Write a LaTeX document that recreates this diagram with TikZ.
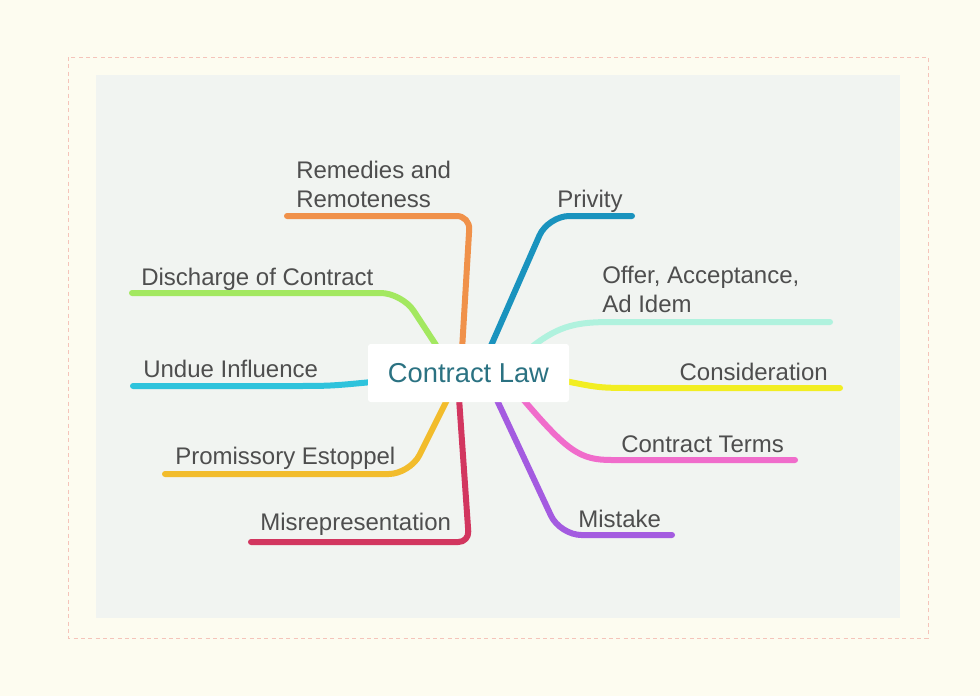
\documentclass[tikz,border=0pt]{standalone}
\usepackage{fontspec}
\setmainfont{Liberation Sans}
\definecolor{cream}{HTML}{FDFCF0}
\definecolor{panel}{HTML}{F1F4F1}
\definecolor{dashc}{HTML}{F5C4BA}
\definecolor{txt}{HTML}{4E4E4E}
\definecolor{ctxt}{HTML}{2B7282}
\definecolor{cOrange}{HTML}{F0914A}
\definecolor{cGreen}{HTML}{A3E860}
\definecolor{cCyan}{HTML}{2EC3DC}
\definecolor{cGold}{HTML}{F2BC2C}
\definecolor{cCrimson}{HTML}{D2365F}
\definecolor{cBlue}{HTML}{1A93BE}
\definecolor{cMint}{HTML}{B0F2DE}
\definecolor{cYellow}{HTML}{F2EE22}
\definecolor{cPink}{HTML}{F06CCB}
\definecolor{cPurple}{HTML}{A45BE0}
\tikzset{
  branch/.style={line width=4.5pt, line cap=round, line join=round},
  lbl/.style={anchor=base west, inner sep=0pt, text=txt, font=\fontsize{18}{21.5}\selectfont, align=left},
  centerbox/.style={fill=white, rounded corners=2pt, minimum width=150.75pt, minimum height=43.5pt, inner sep=0pt, text=ctxt, font=\fontsize{20.5}{24}\selectfont}
}
\begin{document}
\begin{tikzpicture}[x=0.75pt,y=-0.75pt]
\useasboundingbox (0,0) rectangle (980,696);
\fill[cream] (0,0) rectangle (980,696);
\draw[dashc, line width=0.6pt, dash pattern=on 3pt off 2.5pt] (68,57) rectangle (928,638);
\fill[panel] (96,75) rectangle (900,618);

% coordinates
\coordinate (remS) at (462,350);
\coordinate (remK) at (470,216);
\coordinate (remE) at (287,216);
\coordinate (disS) at (436,345);
\coordinate (disK) at (402,293);
\coordinate (disE) at (132,293);
\coordinate (undS) at (372,382);
\coordinate (undE) at (133,386);
\coordinate (proS) at (448,398);
\coordinate (proK) at (410,474);
\coordinate (proE) at (165,474);
\coordinate (misS) at (459,398);
\coordinate (misK) at (469,542);
\coordinate (misE) at (251,542);
\coordinate (priS) at (490,348);
\coordinate (priK) at (548,216);
\coordinate (priE) at (632,216);
\coordinate (offS) at (533,346);
\coordinate (offE) at (830,322);
\coordinate (conS) at (565,381);
\coordinate (conE) at (840,388);
\coordinate (terS) at (522,398);
\coordinate (terE) at (795,460);
\coordinate (mstS) at (496,398);
\coordinate (mstK) at (560,535);
\coordinate (mstE) at (672,535);

% branches
\draw[branch, cOrange, rounded corners=10pt] (remS) -- (remK) -- (remE);
\draw[branch, cGreen, rounded corners=16pt] (disS) -- (disK) -- (disE);
\draw[branch, cCyan] (undS) .. controls (330,386) .. (290,386) -- (undE);
\draw[branch, cGold, rounded corners=16pt] (proS) -- (proK) -- (proE);
\draw[branch, cCrimson, rounded corners=8pt] (misS) -- (misK) -- (misE);
\draw[branch, cBlue, rounded corners=16pt] (priS) -- (priK) -- (priE);
\draw[branch, cMint] (offS) .. controls (560,325) and (578,322) .. (612,322) -- (offE);
\draw[branch, cYellow] (conS) .. controls (600,388) .. (640,388) -- (conE);
\draw[branch, cPink] (terS) .. controls (568,452) and (580,460) .. (612,460) -- (terE);
\draw[branch, cPurple, rounded corners=16pt] (mstS) -- (mstK) -- (mstE);

% centre
\node[centerbox] (law) at (468.5,373) {Contract Law};

% labels
\node[lbl] (rem) at (296,207) {Remedies and\\Remoteness};
\node[lbl] (dis) at (141,285) {Discharge of Contract};
\node[lbl] (und) at (143,377) {Undue Influence};
\node[lbl] (pro) at (175,464) {Promissory Estoppel};
\node[lbl] (mis) at (260,530) {Misrepresentation};
\node[lbl] (pri) at (557,207) {Privity};
\node[lbl] (off) at (602,312) {Offer, Acceptance,\\Ad Idem};
\node[lbl, anchor=base east] (con) at (828,380) {Consideration};
\node[lbl] (ter) at (621,452) {Contract Terms};
\node[lbl] (mst) at (578,527) {Mistake};
\end{tikzpicture}
\end{document}
